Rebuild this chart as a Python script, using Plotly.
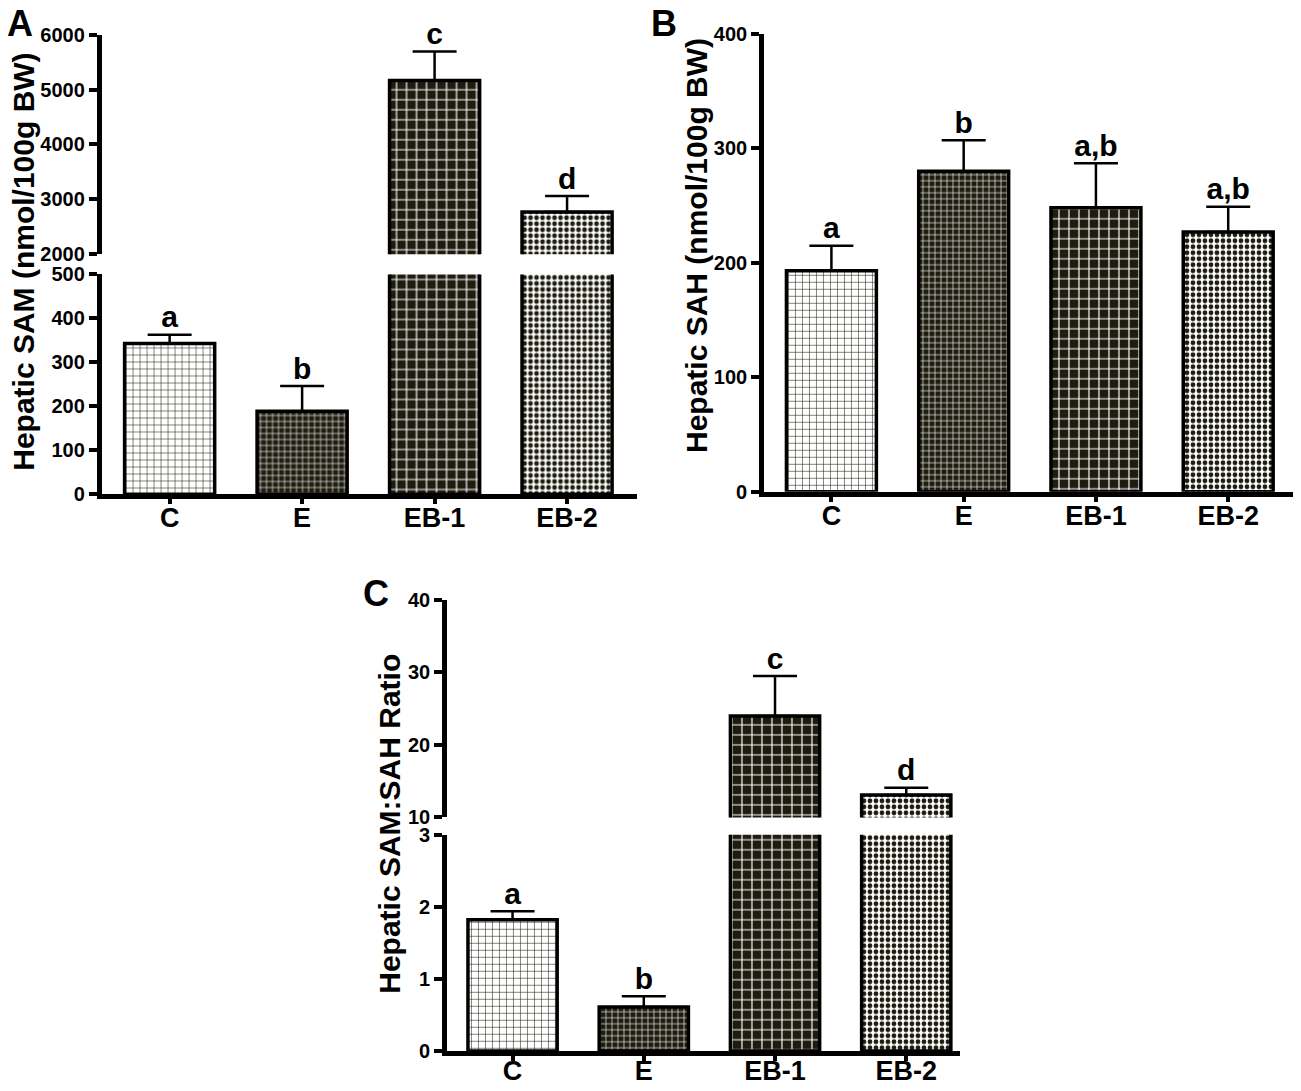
import plotly.graph_objects as go

# Groups and values
groups = ["C", "E", "EB-1", "EB-2"]

sam_mean = [343, 189, 5165, 2770]
sam_err = [20, 57, 530, 290]
sam_letters = ["a", "b", "c", "d"]

sah_mean = [193, 280, 248, 227]
sah_err = [22, 27, 39, 22]
sah_letters = ["a", "b", "a,b", "a,b"]

ratio_mean = [1.82, 0.61, 24.0, 13.1]
ratio_err = [0.12, 0.15, 5.5, 1.0]
ratio_letters = ["a", "b", "c", "d"]

FONT = "Liberation Sans, Arial, sans-serif"
DARK = "#1e1c0e"

# per-bar fill patterns (brick light, brick dark, grid, checker)
pattern = dict(
    shape=["+", "+", "+", "."],
    fgcolor=[DARK, "white", "white", DARK],
    bgcolor=["white", DARK, DARK, "white"],
    size=[7, 6, 10, 6],
    solidity=[0.15, 0.2, 0.22, 0.5],
    fillmode="replace",
)


def bar_trace(means, errs, xa, ya):
    return go.Bar(
        x=groups,
        y=means,
        xaxis=xa,
        yaxis=ya,
        marker=dict(pattern=pattern, line=dict(color="black", width=3.5)),
        error_y=dict(type="data", array=errs, arrayminus=[0] * len(errs),
                     symmetric=False, color="black", thickness=2.5, width=22),
        showlegend=False,
        hoverinfo="skip",
    )


def letter_trace(means, errs, letters, xa, ya, keep):
    xs, ys, ts = [], [], []
    for g, m, e, t in zip(groups, means, errs, letters):
        if keep(m + e):
            xs.append(g)
            ys.append(m + e)
            ts.append(t)
    return go.Scatter(
        x=xs, y=ys, text=ts, mode="text", textposition="top center",
        textfont=dict(family=FONT, size=30, color="black", weight="bold"),
        xaxis=xa, yaxis=ya, cliponaxis=False, showlegend=False, hoverinfo="skip",
    )


fig = go.Figure()

# Panel A (broken axis: 0-500 / 2000-6000)
fig.add_trace(bar_trace(sam_mean, sam_err, "x", "y"))
fig.add_trace(bar_trace(sam_mean, sam_err, "x2", "y2"))
fig.add_trace(letter_trace(sam_mean, sam_err, sam_letters, "x", "y", lambda v: v <= 500))
fig.add_trace(letter_trace(sam_mean, sam_err, sam_letters, "x2", "y2", lambda v: v > 500))

# Panel B
fig.add_trace(bar_trace(sah_mean, sah_err, "x3", "y3"))
fig.add_trace(letter_trace(sah_mean, sah_err, sah_letters, "x3", "y3", lambda v: True))

# Panel C (broken axis: 0-3 / 10-40)
fig.add_trace(bar_trace(ratio_mean, ratio_err, "x4", "y4"))
fig.add_trace(bar_trace(ratio_mean, ratio_err, "x5", "y5"))
fig.add_trace(letter_trace(ratio_mean, ratio_err, ratio_letters, "x4", "y4", lambda v: v <= 3))
fig.add_trace(letter_trace(ratio_mean, ratio_err, ratio_letters, "x5", "y5", lambda v: v > 3))

y_style = dict(
    showline=True, linecolor="black", linewidth=4.5, ticks="outside", tickwidth=4,
    ticklen=8, tickcolor="black", showgrid=False, zeroline=False, automargin=False,
    tickfont=dict(family=FONT, size=20, color="black", weight="bold"),
)
x_style = dict(
    type="category", showline=True, linecolor="black", linewidth=4.5, ticks="outside",
    tickwidth=4, ticklen=5, tickcolor="black", showgrid=False, zeroline=False,
    automargin=False, ticklabelstandoff=-9,
    tickfont=dict(family=FONT, size=27, color="black", weight="bold"),
)
x_hidden = dict(type="category", visible=False, showgrid=False, zeroline=False,
                automargin=False)

# page has an 8px body margin, so the figure is sized to fit inside the window
fig.update_layout(
    width=1285,
    height=1075,
    margin=dict(l=0, r=0, t=0, b=0, autoexpand=False),
    paper_bgcolor="white",
    plot_bgcolor="white",
    bargap=0.32,
    showlegend=False,
    xaxis=dict(x_style, domain=[0.0728, 0.4893], range=[-0.514, 3.526], anchor="y"),
    yaxis=dict(y_style, domain=[0.5477, 0.7521], range=[0, 500], dtick=100, anchor="x"),
    xaxis2=dict(x_hidden, domain=[0.0728, 0.4893], range=[-0.514, 3.526], anchor="y2"),
    yaxis2=dict(y_style, domain=[0.7710, 0.9751], range=[2000, 6000], dtick=1000, anchor="x2"),
    xaxis3=dict(x_style, domain=[0.5883, 1.0], range=[-0.51, 3.49], anchor="y3"),
    yaxis3=dict(y_style, domain=[0.5499, 0.9760], range=[0, 400], dtick=100, anchor="x3"),
    xaxis4=dict(x_style, domain=[0.3416, 0.7409], range=[-0.5, 3.41], anchor="y4",
                ticklabelstandoff=-13),
    yaxis4=dict(y_style, domain=[0.0298, 0.2309], range=[0, 3], dtick=1, anchor="x4"),
    xaxis5=dict(x_hidden, domain=[0.3416, 0.7409], range=[-0.5, 3.41], anchor="y5"),
    yaxis5=dict(y_style, domain=[0.2470, 0.4494], range=[10, 40], dtick=10, anchor="x5"),
)

title_font = dict(family=FONT, size=30, color="black", weight="bold")
letter_font = dict(family=FONT, size=36, color="black", weight="bold")

annotations = [
    dict(text="Hepatic SAM (nmol/100g BW)", x=0.0125, y=0.7640, textangle=-90, font=title_font),
    dict(text="Hepatic SAH (nmol/100g BW)", x=0.5354, y=0.7795, textangle=-90, font=title_font),
    dict(text="Hepatic SAM:SAH Ratio", x=0.2963, y=0.2409, textangle=-90, font=title_font),
    dict(text="A", x=0.0095, y=0.9860, font=letter_font),
    dict(text="B", x=0.5105, y=0.9860, font=letter_font),
    dict(text="C", x=0.2864, y=0.4549, font=letter_font),
]
for a in annotations:
    fig.add_annotation(xref="paper", yref="paper", showarrow=False,
                       xanchor="center", yanchor="middle", **a)

fig.write_html("out.html")
